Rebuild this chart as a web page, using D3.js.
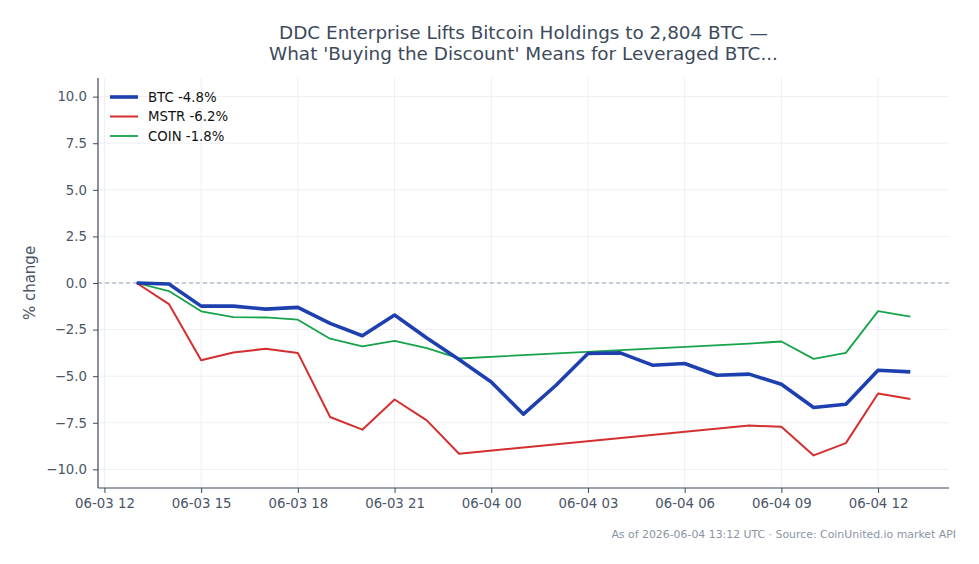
<!DOCTYPE html>
<html>
<head>
<meta charset="utf-8">
<script src="https://cdn.jsdelivr.net/npm/d3@7"></script>
<style>
  body { margin: 0; background: #fff; }
  svg { font-family: "DejaVu Sans", sans-serif; }
</style>
</head>
<body>
<svg id="chart" width="979" height="564"></svg>
<script>
// hourly timestamps (UTC)
const btcTimes = ["2026-06-03T13","2026-06-03T14","2026-06-03T15","2026-06-03T16","2026-06-03T17","2026-06-03T18",
  "2026-06-03T19","2026-06-03T20","2026-06-03T21","2026-06-03T22","2026-06-03T23","2026-06-04T00",
  "2026-06-04T01","2026-06-04T02","2026-06-04T03","2026-06-04T04","2026-06-04T05","2026-06-04T06",
  "2026-06-04T07","2026-06-04T08","2026-06-04T09","2026-06-04T10","2026-06-04T11","2026-06-04T12","2026-06-04T13"];
const btcValues = [0, -0.05, -1.24, -1.24, -1.40, -1.31, -2.17, -2.83, -1.72, -2.95, -4.10, -5.31,
  -7.04, -5.50, -3.78, -3.75, -4.41, -4.32, -4.95, -4.89, -5.43, -6.68, -6.51, -4.68, -4.77];

// stocks: no prints overnight
const stockTimes = ["2026-06-03T13","2026-06-03T14","2026-06-03T15","2026-06-03T16","2026-06-03T17","2026-06-03T18",
  "2026-06-03T19","2026-06-03T20","2026-06-03T21","2026-06-03T22","2026-06-03T23",
  "2026-06-04T08","2026-06-04T09","2026-06-04T10","2026-06-04T11","2026-06-04T12","2026-06-04T13"];
const mstrValues = [0, -1.13, -4.14, -3.73, -3.53, -3.75, -7.19, -7.87, -6.25, -7.37, -9.16,
  -7.65, -7.72, -9.25, -8.59, -5.93, -6.22];
const coinValues = [0, -0.43, -1.52, -1.83, -1.85, -1.97, -2.99, -3.40, -3.10, -3.50, -4.05,
  -3.25, -3.14, -4.07, -3.75, -1.51, -1.81];

const seriesNames = ["BTC -4.8%", "MSTR -6.2%", "COIN -1.8%"];
const yTicks = [-10, -7.5, -5, -2.5, 0, 2.5, 5, 7.5, 10];

const parse = d3.utcParse("%Y-%m-%dT%H");
const series = [
  { name: seriesNames[0], color: "#1e40af", width: 3.6, pts: btcTimes.map((t, i) => ({ t: parse(t), v: btcValues[i] })) },
  { name: seriesNames[1], color: "#d32f2f", width: 2, pts: stockTimes.map((t, i) => ({ t: parse(t), v: mstrValues[i] })) },
  { name: seriesNames[2], color: "#16a34a", width: 1.8, pts: stockTimes.map((t, i) => ({ t: parse(t), v: coinValues[i] })) }
];

const svg = d3.select("#chart");
const m = { left: 98, right: 949, top: 78, bottom: 488 };

// matplotlib style 5% padding on time axis
const t0 = parse(btcTimes[0]), t1 = parse(btcTimes[btcTimes.length - 1]);
const pad = (t1 - t0) * 0.05;
const x = d3.scaleUtc().domain([new Date(+t0 - pad), new Date(+t1 + pad)]).range([m.left, m.right]);
const y = d3.scaleLinear().domain([-11, 11]).range([m.bottom, m.top]);

const xTicks = d3.utcHour.every(3).range(new Date(+t0 - pad), new Date(+t1 + pad));

// grid
const grid = svg.append("g").attr("stroke", "#e8ebf0").attr("stroke-width", 0.8);
grid.selectAll("line.v").data(xTicks).join("line").attr("class", "v")
  .attr("x1", d => x(d)).attr("x2", d => x(d)).attr("y1", m.top).attr("y2", m.bottom);
grid.selectAll("line.h").data(yTicks).join("line").attr("class", "h")
  .attr("x1", m.left).attr("x2", m.right).attr("y1", d => y(d)).attr("y2", d => y(d));

// zero line
svg.append("line")
  .attr("x1", m.left).attr("x2", m.right).attr("y1", y(0)).attr("y2", y(0))
  .attr("stroke", "#94a3b8").attr("stroke-width", 1.1).attr("stroke-dasharray", "4,3");

// lines
const line = d3.line().x(d => x(d.t)).y(d => y(d.v));
svg.append("g").selectAll("path").data(series.slice().reverse()).join("path")
  .attr("d", d => line(d.pts))
  .attr("fill", "none")
  .attr("stroke", d => d.color)
  .attr("stroke-width", d => d.width)
  .attr("stroke-linejoin", "round");

// axes
const axisColor = "#3f4a5a";
const xAxis = svg.append("g").attr("transform", `translate(0,${m.bottom})`)
  .call(d3.axisBottom(x).tickValues(xTicks).tickFormat(d3.utcFormat("%m-%d %H")).tickSizeOuter(0).tickSize(5).tickPadding(6));
const yAxis = svg.append("g").attr("transform", `translate(${m.left},0)`)
  .call(d3.axisLeft(y).tickValues(yTicks).tickFormat(d3.format(".1f")).tickSizeOuter(0).tickSize(5).tickPadding(6));
[xAxis, yAxis].forEach(a => {
  a.select(".domain").attr("stroke", axisColor).attr("stroke-width", 1.2);
  a.selectAll(".tick line").attr("stroke", axisColor);
  a.selectAll(".tick text").attr("fill", "#4a5568").attr("font-size", 13.3).attr("font-family", "DejaVu Sans");
});
yAxis.select(".domain").attr("d", `M0,${m.top}V${m.bottom}`);
xAxis.select(".domain").attr("d", `M${m.left},0H${m.right}`);

// y label
svg.append("text")
  .attr("transform", `translate(35,${y(0)}) rotate(-90)`)
  .attr("text-anchor", "middle")
  .attr("fill", "#4a5568").attr("font-size", 15)
  .text("% change");

// title
const title = svg.append("text").attr("text-anchor", "middle").attr("fill", "#3d4a5c").attr("font-size", 18.4);
title.append("tspan").attr("x", (m.left + m.right) / 2).attr("y", 39).text("DDC Enterprise Lifts Bitcoin Holdings to 2,804 BTC —");
title.append("tspan").attr("x", (m.left + m.right) / 2).attr("y", 60).text("What 'Buying the Discount' Means for Leveraged BTC...");

// legend
const leg = svg.append("g").attr("transform", `translate(110,97)`);
series.forEach((s, i) => {
  const g = leg.append("g").attr("transform", `translate(0,${i * 19.5})`);
  g.append("line").attr("x1", 0).attr("x2", 28).attr("stroke", s.color).attr("stroke-width", s.width);
  g.append("text").attr("x", 38).attr("y", 4.8).attr("font-size", 13.3).attr("fill", "#111").text(s.name);
});

// footer
svg.append("text")
  .attr("x", 956).attr("y", 538).attr("text-anchor", "end")
  .attr("font-size", 10.9).attr("fill", "#8a94a3")
  .text("As of 2026-06-04 13:12 UTC · Source: CoinUnited.io market API");
</script>
</body>
</html>
